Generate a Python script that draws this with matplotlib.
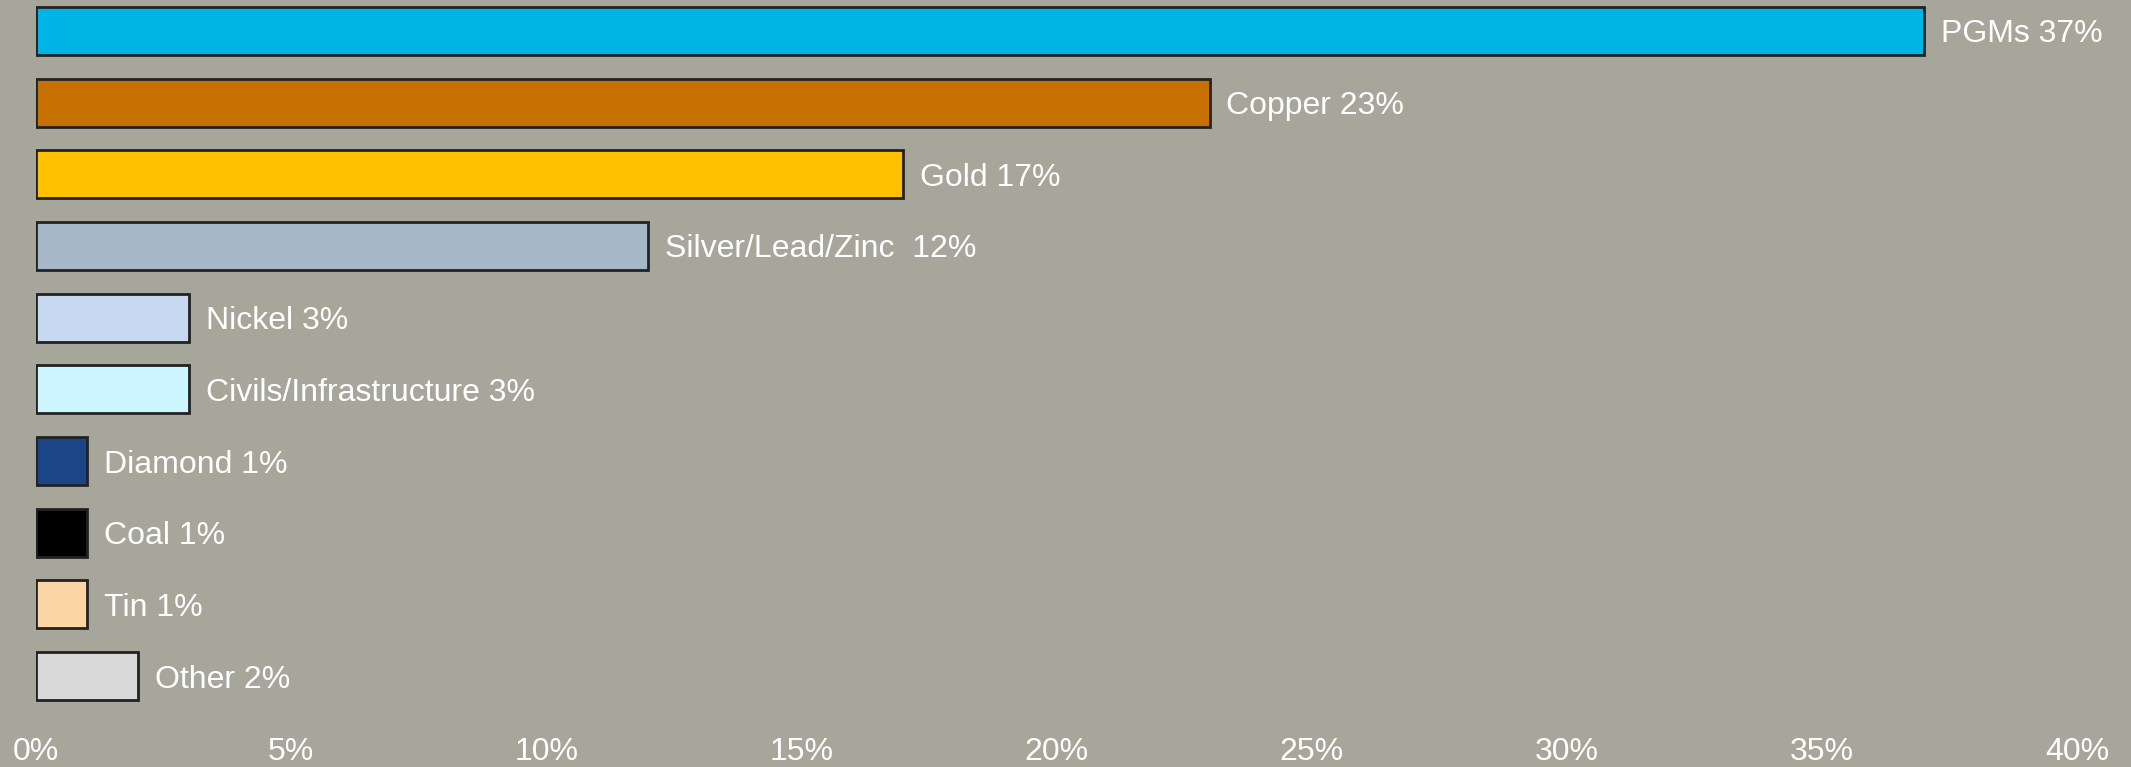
import matplotlib.pyplot as plt

plt.rcParams['font.family'] = ['Liberation Sans', 'DejaVu Sans']

categories = ['PGMs', 'Copper', 'Gold', 'Silver/Lead/Zinc ', 'Nickel',
              'Civils/Infrastructure', 'Diamond', 'Coal', 'Tin', 'Other']
shares = [37, 23, 17, 12, 3, 3, 1, 1, 1, 2]
colors = ['#00B4E6', '#C87103', '#FFC000', '#A6B8C8', '#C6D9F1',
          '#CCF5FF', '#1C4587', '#000000', '#FCD5A5', '#D9D9D9']
xticks = [0, 5, 10, 15, 20, 25, 30, 35, 40]

bg = '#A6A69A'
fig = plt.figure(figsize=(21.31, 7.67), dpi=100, facecolor=bg)
ax = fig.add_axes([36 / 2131, 55 / 767, 2041 / 2131, 712 / 767])
ax.set_facecolor(bg)

ypos = list(range(len(categories)))
ax.barh(ypos, shares, height=0.67, color=colors, edgecolor='#222222', linewidth=2)

# value labels just right of each bar
for y, name, v in zip(ypos, categories, shares):
    ax.annotate(f'{name} {v}%', xy=(v, y), xytext=(12, -2.5), textcoords='offset points',
                va='center', ha='left', color='white', fontsize=23)

ax.set_xlim(0, 40)
ax.set_ylim(9.5, -0.43)
ax.set_xticks(xticks)
ax.set_xticklabels([f'{t}%' for t in xticks])
ax.set_yticks([])
ax.tick_params(axis='x', length=0, pad=18, labelsize=23, labelcolor='white')
for s in ax.spines.values():
    s.set_visible(False)

fig.savefig('out.png', dpi=100, facecolor=bg)
